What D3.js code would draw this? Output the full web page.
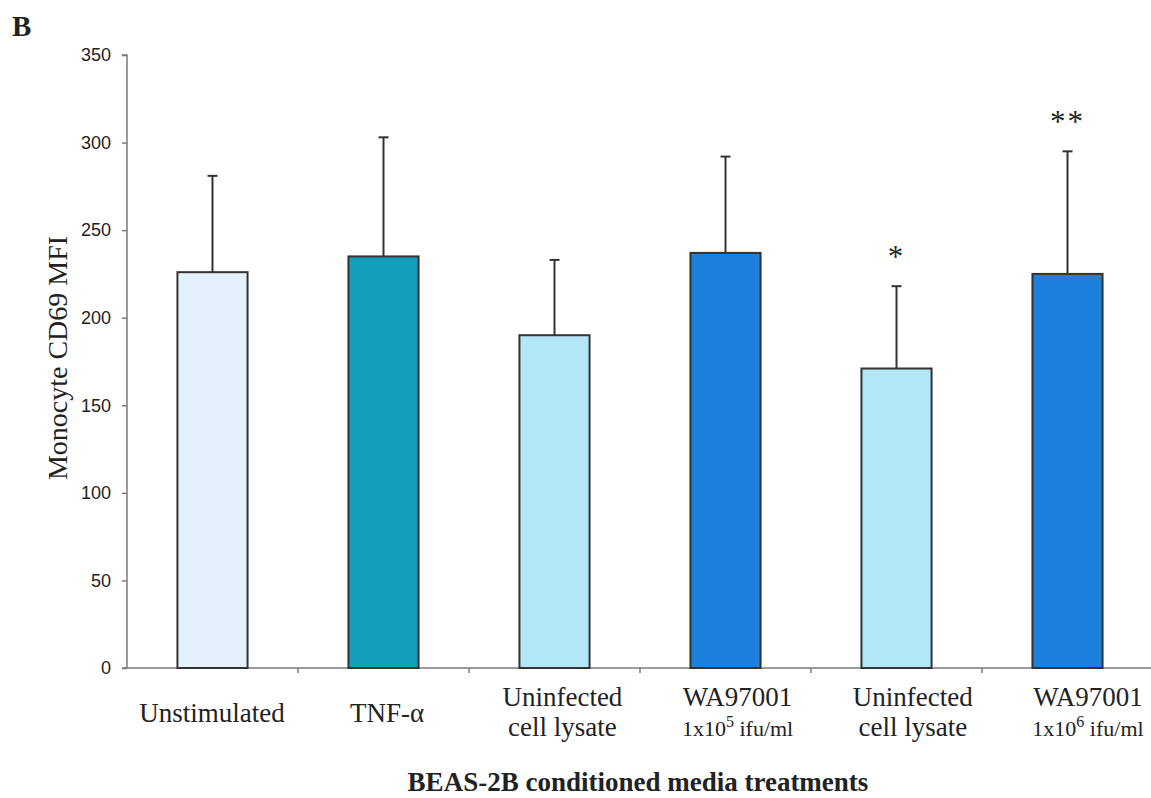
<!DOCTYPE html>
<html>
<head>
<meta charset="utf-8">
<script src="https://cdn.jsdelivr.net/npm/d3@7"></script>
<style>
  html, body { margin: 0; padding: 0; background: #fff; }
  svg { display: block; }
</style>
</head>
<body>
<svg id="chart" width="1151" height="798"></svg>
<script>
// Monocyte CD69 MFI after BEAS-2B conditioned media treatments
const categories = ["Unstimulated", "TNF-α", "Uninfected cell lysate A", "WA97001 1e5", "Uninfected cell lysate B", "WA97001 1e6"];
const labelLine1 = ["Unstimulated", "TNF-α", "Uninfected", "WA97001", "Uninfected", "WA97001"];
const labelLine2 = ["", "", "cell lysate", "1x10|5| ifu/ml", "cell lysate", "1x10|6| ifu/ml"];
const means = [226, 235, 190, 237, 171, 225];
const errorTops = [281, 303, 233, 292, 218, 295];
const significance = ["", "", "", "", "*", "**"];
const barColors = ["#e4f0fa", "#149fbd", "#b2e6f8", "#1b80de", "#b2e6f8", "#1b80de"];
const yTicks = [0, 50, 100, 150, 200, 250, 300, 350];

const svg = d3.select("#chart");
const x0 = 127, x1 = 1153, yTop = 55, yBottom = 668;

const x = d3.scaleBand().domain(categories).range([x0, x1]).paddingInner(0.59).paddingOuter(0.295);
// category captions sit on their own, slightly wider spacing
const xLabel = d3.scalePoint().domain(categories).range([212, 1088]);
const y = d3.scaleLinear().domain([0, 350]).range([yBottom, yTop]);
const axisColor = "#7a7a7a";
const serif = "Liberation Serif, Times New Roman, serif";

// panel letter
svg.append("text").attr("x", 12).attr("y", 36)
  .attr("font-family", serif)
  .attr("font-weight", "bold").attr("font-size", 29).attr("fill", "#222").text("B");

// y axis
const yAxis = d3.axisLeft(y).tickValues(yTicks).tickSize(5).tickPadding(11);
const gy = svg.append("g").attr("transform", `translate(${x0},0)`).call(yAxis);
gy.select(".domain").attr("stroke", axisColor).attr("stroke-width", 1.5).attr("d", `M-5,${yTop}H0V${yBottom}`);
gy.selectAll(".tick line").attr("stroke", axisColor).attr("stroke-width", 1.5);
gy.selectAll(".tick text").attr("font-family", "Liberation Sans, Arial, sans-serif")
  .attr("font-size", 18).attr("fill", "#222");

// x axis line with boundary ticks
const boundaries = d3.range(categories.length + 1).map(i => x0 + i * x.step());
const gx = svg.append("g");
gx.append("line").attr("x1", x0 - 5).attr("x2", x1).attr("y1", yBottom).attr("y2", yBottom)
  .attr("stroke", axisColor).attr("stroke-width", 1.5);
gx.selectAll("line.bt").data(boundaries.slice(1)).join("line").attr("class", "bt")
  .attr("x1", d => d).attr("x2", d => d).attr("y1", yBottom).attr("y2", yBottom + 5)
  .attr("stroke", axisColor).attr("stroke-width", 1.5);

// error bars (upper only)
const cx = d => x(d) + x.bandwidth() / 2;
svg.append("g").selectAll("g").data(categories).join("g").each(function(d, i) {
  const g = d3.select(this);
  g.append("line").attr("x1", cx(d)).attr("x2", cx(d)).attr("y1", y(means[i])).attr("y2", y(errorTops[i]))
    .attr("stroke", "#333").attr("stroke-width", 2);
  g.append("line").attr("x1", cx(d) - 5).attr("x2", cx(d) + 5).attr("y1", y(errorTops[i])).attr("y2", y(errorTops[i]))
    .attr("stroke", "#333").attr("stroke-width", 2);
});

// bars
svg.append("g").selectAll("rect").data(categories).join("rect")
  .attr("x", d => x(d)).attr("width", x.bandwidth())
  .attr("y", (d, i) => y(means[i])).attr("height", (d, i) => y(0) - y(means[i]))
  .attr("fill", (d, i) => barColors[i]).attr("stroke", "#333").attr("stroke-width", 2);

// significance markers
svg.append("g").selectAll("text").data(categories).join("text")
  .attr("x", d => cx(d)).attr("y", (d, i) => y(errorTops[i]) - 19)
  .attr("text-anchor", "middle")
  .attr("font-family", serif)
  .attr("font-size", 31).attr("fill", "#222")
  .attr("letter-spacing", 2)
  .text((d, i) => significance[i]);

// category labels
const lab = svg.append("g").attr("font-family", serif).attr("fill", "#222").attr("text-anchor", "middle");
categories.forEach((d, i) => {
  const lx = xLabel(d);
  if (!labelLine2[i]) {
    lab.append("text").attr("x", lx).attr("y", 722).attr("font-size", 27).text(labelLine1[i]);
  } else {
    lab.append("text").attr("x", lx).attr("y", 706).attr("font-size", 27).text(labelLine1[i]);
    const parts = labelLine2[i].split("|");
    const t = lab.append("text").attr("x", lx).attr("y", 736);
    if (parts.length === 1) {
      t.attr("font-size", 27).text(parts[0]);
    } else {
      t.attr("font-size", 22);
      t.append("tspan").text(parts[0]);
      t.append("tspan").attr("font-size", 16).attr("dy", -9).text(parts[1]);
      t.append("tspan").attr("dy", 9).text(parts[2]);
    }
  }
});

// axis titles
svg.append("text").attr("transform", `translate(67,358) rotate(-90)`)
  .attr("text-anchor", "middle").attr("font-family", serif).attr("font-size", 28).attr("fill", "#222")
  .text("Monocyte CD69 MFI");
svg.append("text").attr("x", 638).attr("y", 791)
  .attr("text-anchor", "middle").attr("font-family", serif).attr("font-weight", "bold")
  .attr("font-size", 27).attr("fill", "#222")
  .text("BEAS-2B conditioned media treatments");
</script>
</body>
</html>
